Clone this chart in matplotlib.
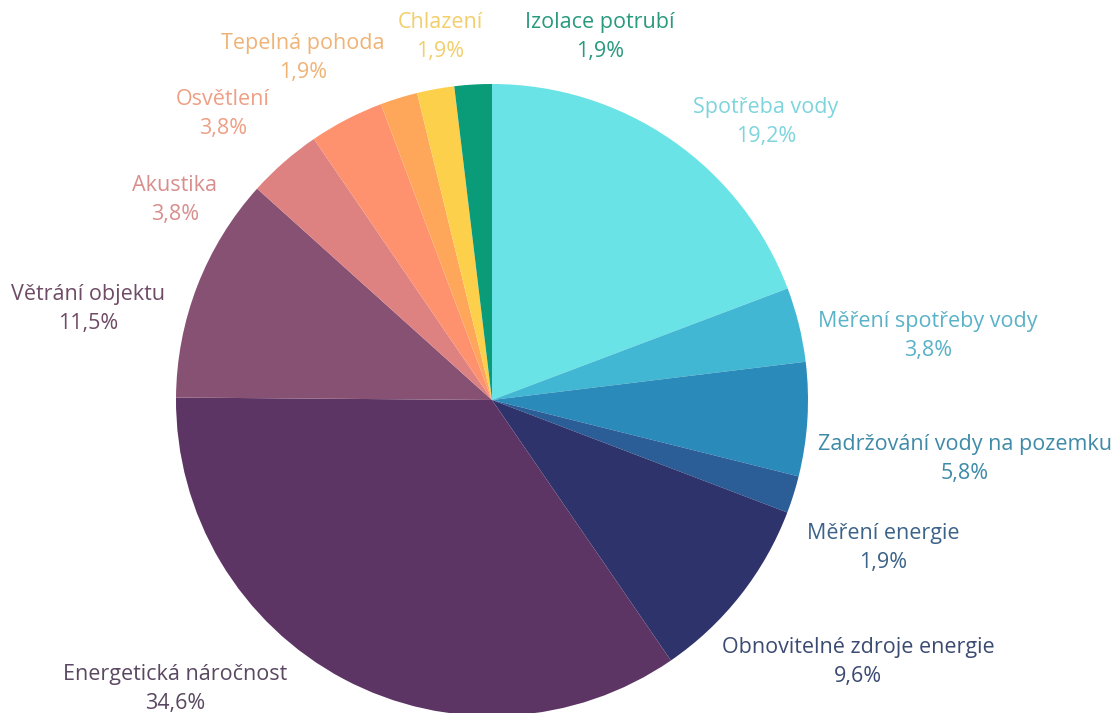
import matplotlib
matplotlib.use("Agg")
import matplotlib.pyplot as plt

# Categories and shares (%), clockwise from 12 o'clock
categories = [
    "Spotřeba vody",
    "Měření spotřeby vody",
    "Zadržování vody na pozemku",
    "Měření energie",
    "Obnovitelné zdroje energie",
    "Energetická náročnost",
    "Větrání objektu",
    "Akustika",
    "Osvětlení",
    "Tepelná pohoda",
    "Chlazení",
    "Izolace potrubí",
]
shares = [19.2, 3.8, 5.8, 1.9, 9.6, 34.6, 11.5, 3.8, 3.8, 1.9, 1.9, 1.9]

wedge_colors = [
    "#6ae3e7", "#42b7d4", "#2a8ab9", "#2b5d97", "#2e336b", "#5d3565",
    "#875173", "#de8181", "#fe926f", "#fea75a", "#fdd04c", "#0a9b78",
]
label_colors = [
    "#7fd4dc", "#5ab2c8", "#3f8aa8", "#3b6288", "#3b4a72", "#5a4862",
    "#6e4b66", "#d98e8e", "#ee9f84", "#f0b375", "#f2cf6c", "#2a9a7e",
]
# Label anchor points in pixel space (x, y from top)
label_pos = [
    (766, 122), (928, 336), (965, 459), (883, 548), (858, 662), (175, 689),
    (88, 309), (175, 200), (223, 114), (303, 58), (440, 37), (600, 37),
]

W, H = 1115, 713
fig = plt.figure(figsize=(W / 100, H / 100), dpi=100)
ax = fig.add_axes([0, 0, 1, 1])

cx, cy, r = 492, H - 400, 316
ax.pie(
    shares,
    colors=wedge_colors,
    startangle=90,
    counterclock=False,
    center=(cx, cy),
    radius=r,
    frame=True,
    wedgeprops=dict(linewidth=0, antialiased=True),
)
ax.set_xlim(0, W)
ax.set_ylim(0, H)
ax.set_aspect("equal")
ax.axis("off")

for name, val, col, (x, y) in zip(categories, shares, label_colors, label_pos):
    txt = f"{name}\n{val:.1f}%".replace(".", ",")
    ax.text(x, H - y, txt, ha="center", va="center", color=col,
            fontsize=15.5, family="Open Sans", linespacing=1.55)

fig.savefig("out.png", dpi=100, facecolor="white")
